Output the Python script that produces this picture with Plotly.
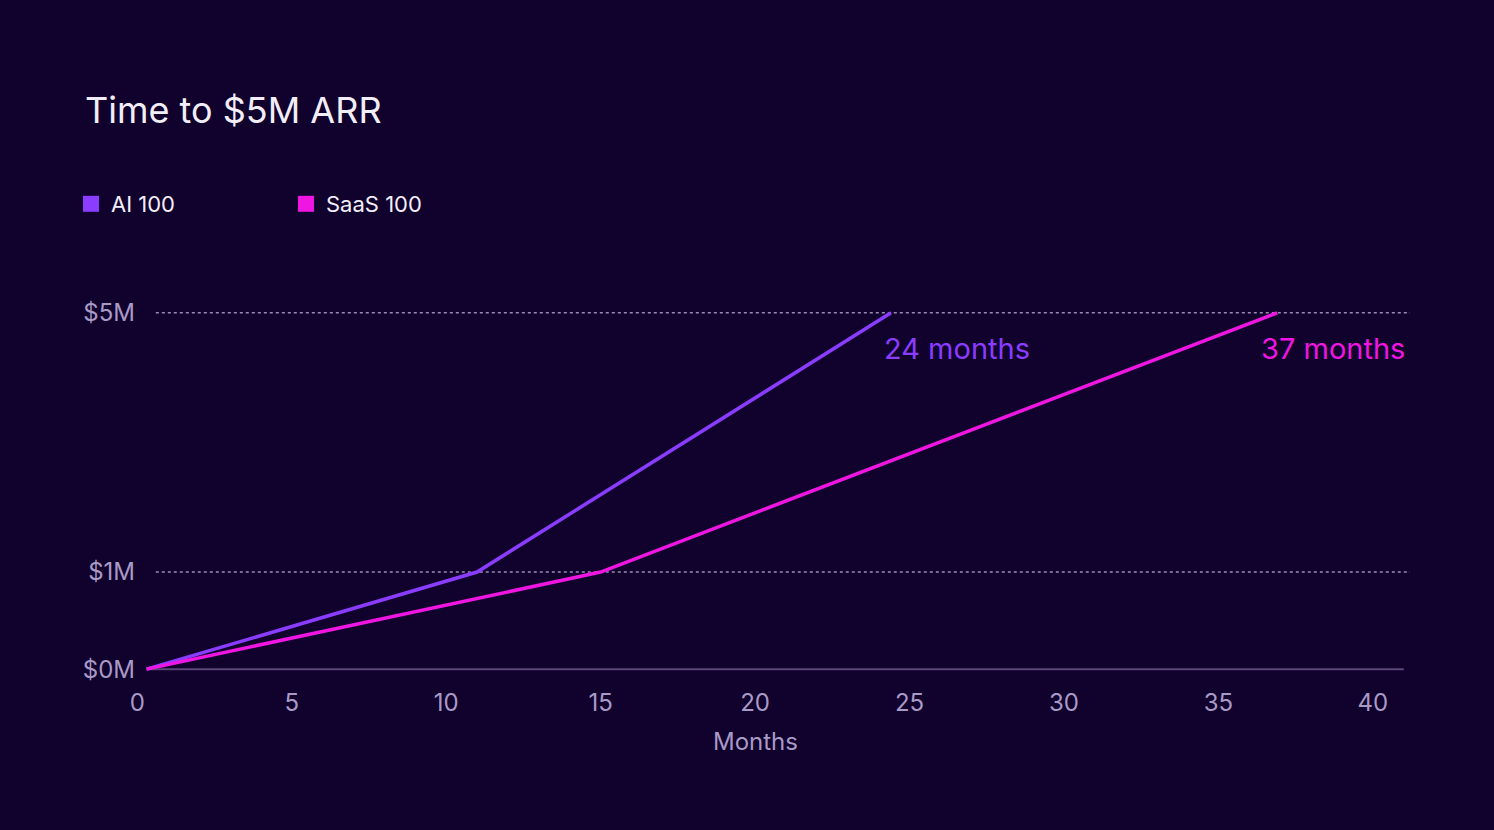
import plotly.graph_objects as go

# ---- data ----
ai_months = [0.3, 11, 24.4]
ai_arr_m = [0, 1, 5]
saas_months = [0.3, 15, 36.9]
saas_arr_m = [0, 1, 5]
y_tick_values = [0, 1, 5]
y_tick_labels = ["$0M", "$1M", "$5M"]
x_tick_values = [0, 5, 10, 15, 20, 25, 30, 35, 40]
series_names = ["AI 100", "SaaS 100"]
end_labels = ["24 months", "37 months"]
x_title = "Months"

AI_COLOR = "#8a3cff"
SAAS_COLOR = "#ee16e0"
BG = "#11012d"
TICK = "#a89ac6"


def yscale(v):
    # broken (piecewise-linear) value axis used by the original chart
    return v if v <= 1 else 1 + (v - 1) * 0.6675


fig = go.Figure()
fig.add_trace(go.Scatter(x=ai_months, y=[yscale(v) for v in ai_arr_m], mode="lines",
                         line=dict(color=AI_COLOR, width=3.5), showlegend=False,
                         cliponaxis=False))
fig.add_trace(go.Scatter(x=saas_months, y=[yscale(v) for v in saas_arr_m], mode="lines",
                         line=dict(color=SAAS_COLOR, width=3.5), showlegend=False,
                         cliponaxis=False))
# legend entries with square swatches
for name, col in zip(series_names, [AI_COLOR, SAAS_COLOR]):
    fig.add_trace(go.Scatter(x=[None], y=[None], mode="markers", name=name,
                             marker=dict(symbol="square", size=17, color=col)))

fig.add_annotation(x=ai_months[-1], y=yscale(ai_arr_m[-1]), text=end_labels[0],
                   xanchor="left", yanchor="top", xshift=-9, yshift=-16, showarrow=False,
                   font=dict(size=29, color=AI_COLOR, family="Inter"))
fig.add_annotation(x=saas_months[-1], y=yscale(saas_arr_m[-1]), text=end_labels[1],
                   xanchor="left", yanchor="top", xshift=-18, yshift=-16, showarrow=False,
                   font=dict(size=29, color=SAAS_COLOR, family="Inter"))
fig.add_annotation(x=x_tick_values[4], xref="x", y=0, yref="paper", text=x_title,
                   xanchor="center", yanchor="middle", yshift=-67, showarrow=False,
                   font=dict(size=24, color=TICK, family="Inter"))

fig.update_layout(
    width=1494, height=830,
    paper_bgcolor=BG, plot_bgcolor=BG,
    margin=dict(l=128, r=84, t=305, b=156),
    font=dict(family="Inter", color=TICK, size=22),
    title=dict(text="Time to $5M ARR", x=85 / 1494, xanchor="left", y=1 - 110 / 830,
               yanchor="middle", font=dict(size=36, color="#f2eef8", family="Inter")),
    legend=dict(orientation="h", x=71 / 1494, xref="container", xanchor="left",
                y=1 - 204 / 830, yref="container", yanchor="middle",
                entrywidth=170, entrywidthmode="pixels", itemwidth=30,
                font=dict(size=22, color="#f2eef8"), bgcolor="rgba(0,0,0,0)"),
    xaxis=dict(range=[-0.3, 41.2], tickvals=x_tick_values, showgrid=False, zeroline=False,
               showline=False, ticks="", tickfont=dict(size=24, color=TICK),
               ticklabelstandoff=12),
    yaxis=dict(range=[-0.05, 3.75], tickvals=[yscale(v) for v in y_tick_values],
               ticktext=y_tick_labels, showgrid=False, zeroline=False, ticks="",
               tickfont=dict(size=24, color=TICK), ticklabelstandoff=-8),
)

# baseline and dotted reference lines
fig.add_shape(type="line", x0=0.35, x1=41.0, y0=0, y1=0, xref="x", yref="y",
              line=dict(color="#5a4678", width=2), layer="below")
for v in y_tick_values[1:]:
    fig.add_shape(type="line", x0=0.6, x1=41.2, y0=yscale(v), y1=yscale(v), xref="x", yref="y",
                  line=dict(color="#9a8cb4", width=1.5, dash="dot"), layer="below")

fig.write_html("out.html", config={"displayModeBar": False},
               post_script="document.body.style.margin='0';"
                           "document.body.style.background='" + BG + "';")
